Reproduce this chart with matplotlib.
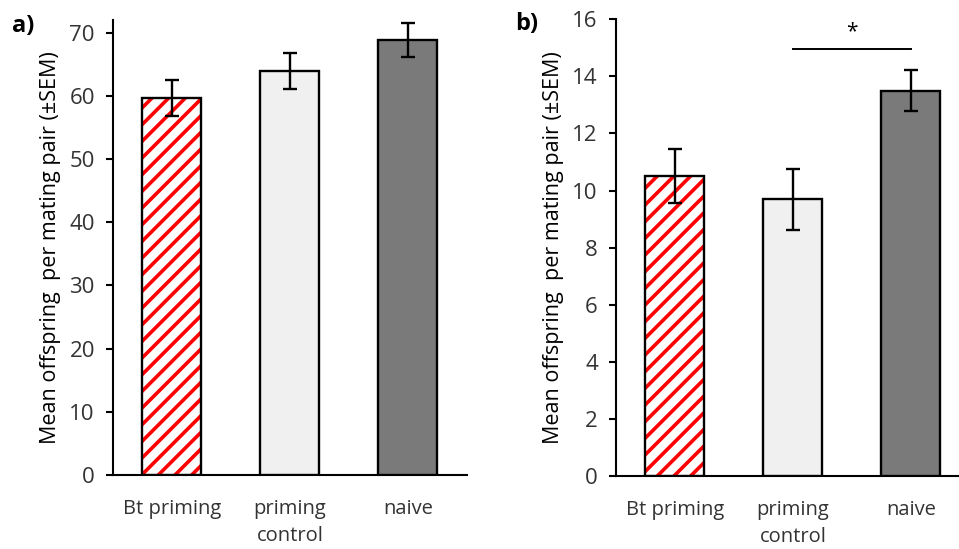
import numpy as np
import matplotlib
matplotlib.use("Agg")
import matplotlib.pyplot as plt

plt.rcParams['font.family'] = ['Open Sans', 'DejaVu Sans']
plt.rcParams['hatch.linewidth'] = 2.6

groups = ["Bt priming", "priming\ncontrol", "naive"]
offspring_a = [59.7, 63.9, 68.9]
sem_a = [2.85, 2.9, 2.7]
offspring_b = [10.5, 9.7, 13.5]
sem_b = [0.95, 1.07, 0.72]

fills = ["white", "#f0f0f0", "#7a7a7a"]
ylab = "Mean offspring  per mating pair (\u00b1SEM)"
txt = "#333333"

fig = plt.figure(figsize=(9.59, 5.49), dpi=100)
ax_a = fig.add_axes([0.1178, 0.1348, 0.369, 0.8288])
ax_b = fig.add_axes([0.6423, 0.133, 0.3566, 0.8318])

def panel(ax, vals, errs, ymax, step, xmax):
    x = np.arange(len(groups))
    # hatched first bar: red stripes underneath a black outline
    ax.bar(x[0], vals[0], width=0.5, color="white", edgecolor="red",
           hatch="//", linewidth=0, zorder=2)
    ax.bar(x, vals, width=0.5, color=["none"] + fills[1:], edgecolor="black",
           linewidth=1.7, zorder=3)
    ax.errorbar(x, vals, yerr=errs, fmt="none", ecolor="black",
                elinewidth=1.7, capsize=5, capthick=1.7, zorder=4)
    ax.set_xlim(-0.5, xmax)
    ax.set_ylim(0, ymax)
    ax.set_yticks(np.arange(0, ymax + 0.01, step))
    ax.set_xticks(x)
    ax.set_xticklabels(groups, fontsize=14.5, color=txt, linespacing=1.5)
    ax.tick_params(axis="x", length=0, pad=17)
    ax.tick_params(axis="y", length=5, width=1.5, labelsize=16,
                   labelcolor=txt, pad=8)
    for s in ["top", "right"]:
        ax.spines[s].set_visible(False)
    for s in ["left", "bottom"]:
        ax.spines[s].set_linewidth(1.5)
    ax.set_ylabel(ylab, fontsize=15.5, color="black", labelpad=6)

panel(ax_a, offspring_a, sem_a, 72, 10, 2.5)
panel(ax_b, offspring_b, sem_b, 16, 2, 2.398)

# significance bar between priming control and naive
ax_b.plot([1, 2], [14.95, 14.95], color="black", lw=1.4)
ax_b.text(1.5, 15.2, "*", ha="center", va="bottom", fontsize=15)

fig.text(0.012, 0.952, "a)", fontsize=17, fontweight="bold", va="center")
fig.text(0.537, 0.956, "b)", fontsize=17, fontweight="bold", va="center")

fig.savefig("out.png", dpi=100)
